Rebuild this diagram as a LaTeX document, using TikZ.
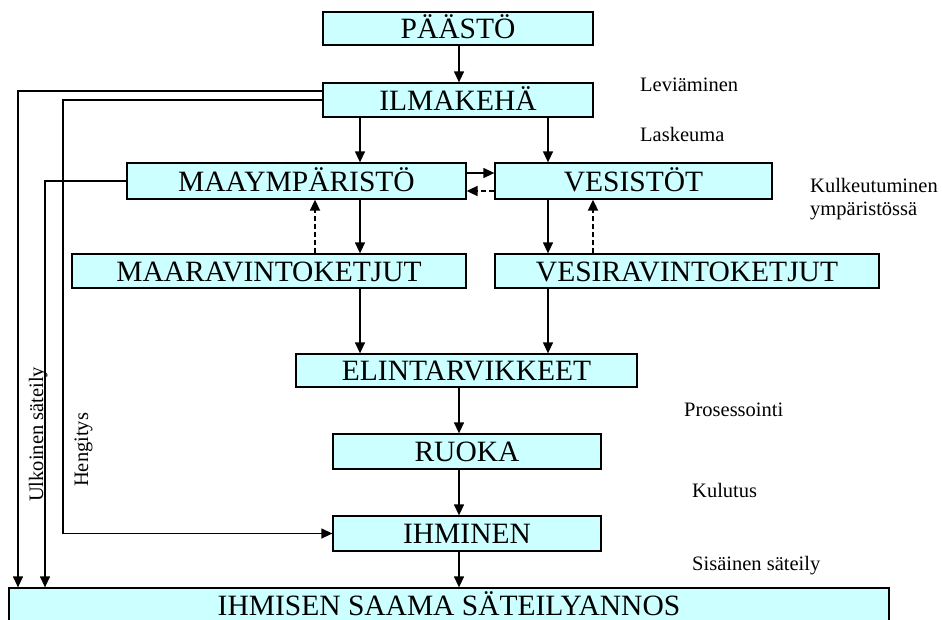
\documentclass[tikz,border=0pt]{standalone}
\usepackage{fontspec}
\setmainfont{Liberation Serif}
\usetikzlibrary{arrows.meta}
\definecolor{boxfill}{RGB}{204,255,255}
\begin{document}
\begin{tikzpicture}[x=1pt,y=-1pt,
  box/.style={draw=black, line width=1.3pt, fill=boxfill, inner sep=0pt,
    font=\fontsize{29.5}{30}\selectfont, text height=20pt, text depth=0pt},
  lbl/.style={font=\fontsize{20.5}{22}\selectfont, inner sep=0pt},
  arr/.style={line width=1.3pt, -{Triangle[length=11pt,width=10pt]}},
  darr/.style={line width=1.8pt, dash pattern=on 5pt off 3pt, -{Triangle[length=11pt,width=10pt]}}]
\useasboundingbox (0,0) rectangle (942,619);
\begin{scope}
\clip (0,0) rectangle (942,619);
% boxes
\node[box, minimum width=270pt, minimum height=33pt] (paasto) at (458,28.5) {PÄÄSTÖ};
\node[box, minimum width=270pt, minimum height=34pt] (ilma) at (458,100) {ILMAKEHÄ};
\node[box, minimum width=339pt, minimum height=36pt] (maay) at (296.5,181) {MAAYMPÄRISTÖ};
\node[box, minimum width=277pt, minimum height=36pt] (vesi) at (633.5,181) {VESISTÖT};
\node[box, minimum width=394pt, minimum height=34pt] (maarav) at (269,271) {MAARAVINTOKETJUT};
\node[box, minimum width=384pt, minimum height=34pt] (vesirav) at (687,271) {VESIRAVINTOKETJUT};
\node[box, minimum width=341pt, minimum height=33pt] (elint) at (466.5,370.5) {ELINTARVIKKEET};
\node[box, minimum width=268pt, minimum height=35pt] (ruoka) at (467,451.5) {RUOKA};
\node[box, minimum width=268pt, minimum height=35pt] (ihminen) at (467,533.5) {IHMINEN};
\node[box, minimum width=880pt, minimum height=35pt] (bottom) at (449,605.5) {IHMISEN SAAMA SÄTEILYANNOS};
\end{scope}
% column coordinates
\coordinate (cL1) at (18,0);
\coordinate (cL2) at (45,0);
\coordinate (cH) at (63,0);
\coordinate (cD1) at (315,0);
\coordinate (cA) at (360,0);
\coordinate (cM) at (459,0);
\coordinate (cB) at (548,0);
\coordinate (cD2) at (593,0);
% main connectors
\draw[arr] (paasto.south -| cM) -- (ilma.north -| cM);
\draw[arr] (ilma.south -| cA) -- (maay.north -| cA);
\draw[arr] (ilma.south -| cB) -- (vesi.north -| cB);
\draw[arr] ([yshift=8pt]maay.east) -- ([yshift=8pt]vesi.west);
\draw[darr] ([yshift=-10pt]vesi.west) -- ([yshift=-10pt]maay.east);
\draw[arr] (maay.south -| cA) -- (maarav.north -| cA);
\draw[darr] (maarav.north -| cD1) -- (maay.south -| cD1);
\draw[arr] (vesi.south -| cB) -- (vesirav.north -| cB);
\draw[darr] (vesirav.north -| cD2) -- (vesi.south -| cD2);
\draw[arr] (maarav.south -| cA) -- (elint.north -| cA);
\draw[arr] (vesirav.south -| cB) -- (elint.north -| cB);
\draw[arr] (elint.south -| cM) -- (ruoka.north -| cM);
\draw[arr] (ruoka.south -| cM) -- (ihminen.north -| cM);
\draw[arr] (ihminen.south -| cM) -- (bottom.north -| cM);
% left side connectors
\draw[arr] ([yshift=9pt]ilma.west) -| (bottom.north -| cL1);
\draw[arr] (maay.west) -| (bottom.north -| cL2);
\draw[arr] (ilma.west) -| (cH |- ihminen.west) -- (ihminen.west);
% labels
\node[lbl, anchor=base west] (lev) at (640,91) {Leviäminen};
\node[lbl, anchor=base west] (lask) at (640,141.5) {Laskeuma};
\node[lbl, anchor=base west] (kulk1) at (810,192.5) {Kulkeutuminen};
\node[lbl, anchor=base west] (kulk2) at (810,215) {ympäristössä};
\node[lbl, anchor=base west] (pros) at (684,416) {Prosessointi};
\node[lbl, anchor=base west] (kulu) at (692,497.5) {Kulutus};
\node[lbl, anchor=base west] (sis) at (692,570) {Sisäinen säteily};
\node[lbl, anchor=base west, rotate=90] (ulk) at (43,502) {Ulkoinen säteily};
\node[lbl, anchor=base west, rotate=90] (heng) at (88,487) {Hengitys};
\end{tikzpicture}
\end{document}
